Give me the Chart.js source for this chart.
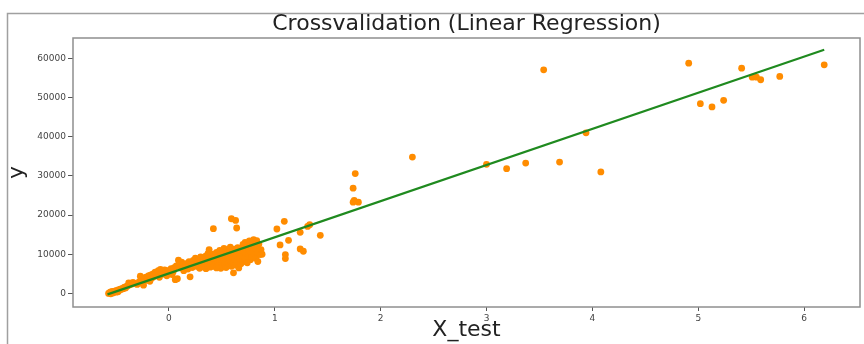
<!DOCTYPE html>
<html>
<head>
<meta charset="utf-8">
<script src="https://cdn.jsdelivr.net/npm/chart.js@4/dist/chart.umd.min.js"></script>
<style>
  html, body { margin: 0; padding: 0; background: #ffffff; }
  #wrap { width: 864px; height: 344px; }
</style>
</head>
<body>
<div id="wrap"><canvas id="c" width="864" height="344"></canvas></div>
<script>
// ---- data ----
const chartTitle = "Crossvalidation (Linear Regression)";
const xAxisLabel = "X_test";
const yAxisLabel = "y";

const xTickValues = [0, 1, 2, 3, 4, 5, 6];
const yTickValues = [0, 10000, 20000, 30000, 40000, 50000, 60000];

// observed test points
const pointX = [
  -0.57,-0.56,-0.55,-0.54,-0.53,-0.52,-0.51,-0.50,-0.49,-0.48,-0.47,-0.46,-0.45,-0.44,-0.43,-0.42,-0.41,-0.40,-0.39,-0.38,
  -0.37,-0.36,-0.35,-0.34,-0.33,-0.55,-0.53,-0.50,-0.48,
  -0.30,-0.28,-0.27,-0.26,-0.25,-0.24,-0.23,-0.22,-0.21,-0.20,-0.19,-0.18,-0.17,-0.16,-0.15,-0.14,-0.13,-0.12,-0.11,-0.10,
  -0.09,-0.08,-0.07,-0.06,-0.05,-0.04,-0.03,-0.02,-0.01,0.00,0.01,0.02,0.03,0.04,0.05,0.06,0.07,0.08,0.09,0.10,
  0.11,0.12,0.13,0.14,0.15,
  0.16,0.18,0.19,0.20,0.21,0.22,0.23,0.24,0.25,0.26,0.27,0.28,0.29,0.30,0.30,0.31,0.32,0.33,0.34,0.35,
  0.35,0.36,0.37,0.37,0.38,0.38,0.39,0.40,0.40,0.41,0.42,0.42,0.42,0.43,0.44,0.44,0.45,0.45,0.46,0.47,
  0.47,0.48,0.48,0.49,0.49,0.50,0.50,0.51,0.51,0.52,0.52,0.53,0.53,0.54,0.54,0.55,0.55,0.56,0.56,0.57,
  0.57,0.58,0.58,0.59,0.59,0.60,0.60,0.61,0.61,0.62,0.62,0.63,0.63,0.64,0.64,0.65,0.65,0.66,0.66,0.67,
  0.68,0.68,0.69,0.70,0.70,0.71,0.72,0.72,0.73,0.74,0.74,0.75,0.76,0.76,0.77,0.78,0.78,0.79,0.80,0.80,
  0.81,0.82,0.82,0.83,0.84,0.84,0.85,0.86,0.87,0.88,
  1.09,1.02,1.13,1.05,1.10,1.10,1.24,1.31,1.33,1.24,1.27,1.43,
  1.76,1.74,1.75,1.79,1.74,
  2.30,3.00,3.19,3.37,3.54,3.69,3.94,4.08,4.91,5.02,5.13,5.24,5.41,5.51,5.55,5.59,5.77,6.19
];
const pointY = [
  0,200,-100,350,500,300,600,700,500,900,800,1100,1000,1300,1200,1600,1400,1800,1900,2700,
  2200,2500,2400,2800,2600,400,100,300,400,
  2300,3000,4400,2700,3600,2100,4000,3300,4200,3700,4500,3100,4700,3900,5000,4300,5400,4600,5200,5800,
  4100,6100,5500,4900,5700,6000,5300,4500,5600,5900,5100,6300,4800,5500,6600,3500,7000,3740,8470,7500,
  6500,8000,7200,5800,6900,
  7600,6200,8100,4240,7000,6600,8400,7300,9000,6900,7800,8600,6400,7600,9300,8200,6800,8900,7300,9600,
  6300,8000,10200,7100,11190,8700,6700,9200,7600,8300,16530,10000,6900,8800,7400,9700,6500,10500,8200,7000,
  9300,11000,7800,6400,8700,10200,7200,9500,6800,8400,11500,7600,10000,6600,9000,11200,7900,8600,10600,7300,
  9700,11800,8200,19070,6900,9300,10900,5260,7700,8800,11300,18640,7200,16700,9800,8300,11700,6500,10300,8900,
  7600,11000,9400,12500,8100,10600,13000,9100,11400,7800,12200,9700,13400,10800,8600,11800,9200,13200,13730,10300,
  12300,9000,11500,13500,8140,10600,12600,9920,11200,10000,
  18400,16450,13560,12380,9920,8900,15600,17100,17550,11370,10760,14830,
  30600,26870,23730,23300,23300,
  34830,32970,31860,33300,57130,33560,41020,31020,58820,48480,47630,49330,57540,55250,55250,54580,55430,58400
];

// fitted regression line (end points)
const lineX = [-0.58, 6.19];
const lineY = [-250, 62250];

// axis limits (matplotlib-like 5% margins)
const xMin = -0.906, xMax = 6.528;
const yMin = -3480, yMax = 65250;

// ---- build chart ----
const scatterData = pointX.map((x, i) => ({ x: x, y: pointY[i] }));
const lineData = lineX.map((x, i) => ({ x: x, y: lineY[i] }));

const frameColor = '#8f8f8f';

const decorPlugin = {
  id: 'decor',
  beforeDraw(chart) {
    const ctx = chart.ctx;
    ctx.save();
    ctx.fillStyle = '#ffffff';
    ctx.fillRect(0, 0, chart.width, chart.height);
    // outer figure border
    ctx.strokeStyle = '#a0a0a0';
    ctx.lineWidth = 1.5;
    ctx.beginPath();
    ctx.moveTo(7.5, chart.height);
    ctx.lineTo(7.5, 13.5);
    ctx.lineTo(chart.width, 13.5);
    ctx.stroke();
    ctx.restore();
  },
  afterDraw(chart) {
    const a = chart.chartArea;
    const ctx = chart.ctx;
    ctx.save();
    ctx.strokeStyle = frameColor;
    ctx.lineWidth = 1.5;
    ctx.strokeRect(a.left, a.top, a.right - a.left, a.bottom - a.top);
    ctx.restore();
  }
};

Chart.defaults.font.family = "'DejaVu Sans', sans-serif";

new Chart(document.getElementById('c'), {
  type: 'scatter',
  data: {
    datasets: [
      {
        type: 'line',
        label: 'fit',
        data: lineData,
        borderColor: '#1f8a1f',
        borderWidth: 2.2,
        pointRadius: 0,
        fill: false,
        tension: 0,
        order: 0
      },
      {
        type: 'scatter',
        label: 'test',
        data: scatterData,
        backgroundColor: '#ff8c00',
        borderWidth: 0,
        pointRadius: 3.4,
        order: 1
      }
    ]
  },
  options: {
    responsive: false,
    animation: false,
    devicePixelRatio: 1,
    layout: { padding: { left: 0, right: 3, top: 0, bottom: 0 } },
    plugins: {
      legend: { display: false },
      tooltip: { enabled: false },
      title: {
        display: true,
        text: chartTitle,
        fullSize: false,
        color: '#222222',
        font: { size: 22, weight: 'normal', family: "'DejaVu Sans', sans-serif" },
        padding: { top: 11, bottom: 0.6 }
      }
    },
    scales: {
      x: {
        type: 'linear',
        position: 'bottom',
        min: xMin,
        max: xMax,
        afterBuildTicks: s => { s.ticks = xTickValues.map(v => ({ value: v })); },
        afterFit: s => { s.height = 37; },
        border: { display: false },
        grid: { display: true, drawOnChartArea: false, drawTicks: true, tickLength: 4, color: '#555555', lineWidth: 1 },
        ticks: { color: '#444444', font: { size: 9 }, padding: 2, maxRotation: 0, callback: v => String(v) },
        title: {
          display: true,
          text: xAxisLabel,
          color: '#222222',
          font: { size: 22, weight: 'normal' },
          padding: { top: 0, bottom: 1 }
        }
      },
      y: {
        type: 'linear',
        position: 'left',
        min: yMin,
        max: yMax,
        afterBuildTicks: s => { s.ticks = yTickValues.map(v => ({ value: v })); },
        afterFit: s => { s.width = 73; },
        border: { display: false },
        grid: { display: true, drawOnChartArea: false, drawTicks: true, tickLength: 5, color: '#555555', lineWidth: 1 },
        ticks: { color: '#444444', font: { size: 9 }, padding: 2, callback: v => String(v) },
        title: {
          display: true,
          text: yAxisLabel,
          color: '#222222',
          font: { size: 22, weight: 'normal' },
          padding: { top: 4, bottom: 0 }
        }
      }
    }
  },
  plugins: [decorPlugin]
});
</script>
</body>
</html>
